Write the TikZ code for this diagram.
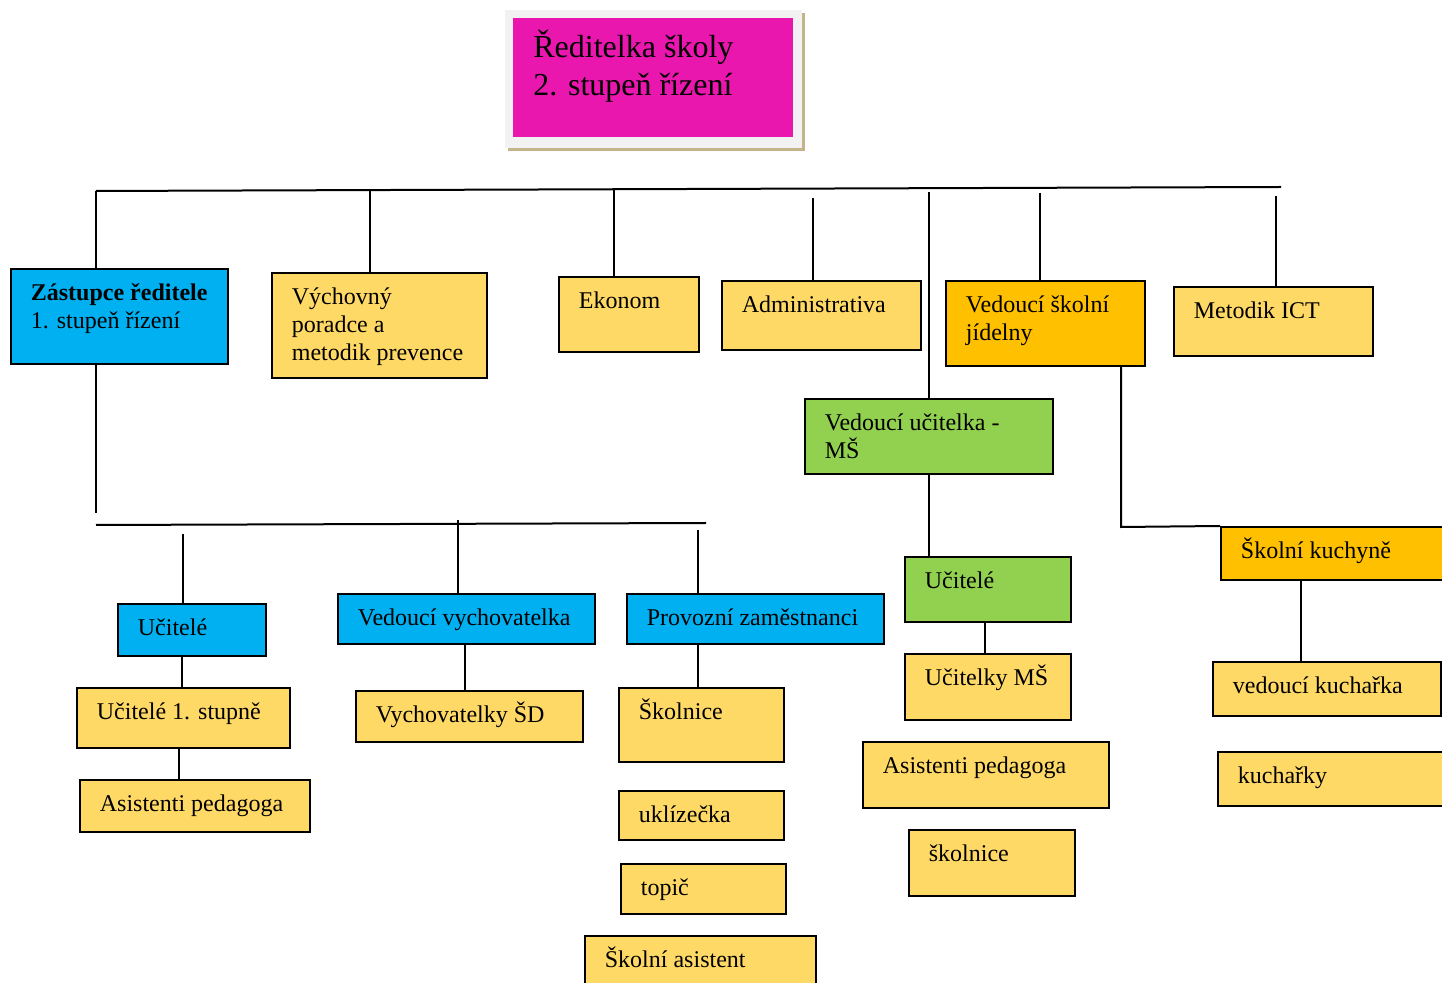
\documentclass[tikz,border=0pt]{standalone}
\usepackage{fontspec}
\setmainfont{Liberation Serif}
\definecolor{titlepink}{HTML}{EA17AE}
\definecolor{framegray}{HTML}{F2F2F2}
\definecolor{shadowtan}{HTML}{C4B48C}
\definecolor{boxblue}{HTML}{00B0F0}
\definecolor{boxyellow}{HTML}{FFD966}
\definecolor{boxorange}{HTML}{FFC000}
\definecolor{boxgreen}{HTML}{92D050}
\tikzset{box/.style={rectangle,
                     draw=black,
                     line width=1pt,
                     inner sep=0pt,
                     anchor=north west},
         staff/.style={box, fill=boxyellow},
         unit/.style={box, fill=boxblue},
         kitchen/.style={box, fill=boxorange},
         nursery/.style={box, fill=boxgreen},
         % #1 = number of extra lines below the first one
         txt/.style={anchor=base west,
                     inner sep=0pt,
                     align=left,
                     xshift=10.25pt,
                     yshift=-16.5pt-#1*14pt,
                     font=\fontsize{12}{14}\selectfont},
         txt/.default=0,
         link/.style={line width=1pt}}

\begin{document}
\begin{tikzpicture}[x=0.5pt, y=-0.5pt]
\useasboundingbox (0,0) rectangle (1442,983);
\clip (0,0) rectangle (1442,983);

% director
\fill[shadowtan] (508,13) rectangle (805,151);
\fill[framegray] (505,10) rectangle (802,148);
\node (dir) [rectangle, fill=titlepink, inner sep=0pt, anchor=north west,
             minimum width=140pt, minimum height=59.5pt,
             label={[anchor=base west, inner sep=0pt, align=left, xshift=10pt, yshift=-39pt,
                     font=\fontsize{16}{19}\selectfont]north west:{Ředitelka školy\\2. stupeň řízení}}] at (513,18) {};

% first row
\node (zast) [unit, minimum width=108.5pt, minimum height=47.5pt,
              label={[txt=1]north west:{\textbf{Zástupce ředitele}\\1. stupeň řízení}}] at (10,268) {};
\node (vych) [staff, minimum width=107.5pt, minimum height=52.5pt,
              label={[txt=2]north west:{Výchovný\\poradce a\\metodik prevence}}] at (271,272) {};
\node (ekon) [staff, minimum width=70pt, minimum height=37.5pt,
              label={[txt]north west:Ekonom}] at (558,276) {};
\node (admin) [staff, minimum width=99.5pt, minimum height=34.5pt,
               label={[txt]north west:Administrativa}] at (721,280) {};
\node (jid) [kitchen, minimum width=99.5pt, minimum height=42.5pt,
             label={[txt=1]north west:{Vedoucí školní\\jídelny}}] at (945,280) {};
\node (ict) [staff, minimum width=99.5pt, minimum height=34.5pt,
             label={[txt]north west:Metodik ICT}] at (1173,286) {};
\node (vedms) [nursery, minimum width=124pt, minimum height=37.5pt,
               label={[txt=1]north west:{Vedoucí učitelka -\\MŠ}}] at (804,398) {};

% primary school
\node (ucit) [unit, minimum width=74pt, minimum height=26pt,
              label={[txt]north west:Učitelé}] at (117,603) {};
\node (vedvych) [unit, minimum width=128.5pt, minimum height=25pt,
                 label={[txt]north west:Vedoucí vychovatelka}] at (337,593) {};
\node (provoz) [unit, minimum width=128.5pt, minimum height=25pt,
                label={[txt]north west:Provozní zaměstnanci}] at (626,593) {};
\node (uc1) [staff, minimum width=106.5pt, minimum height=30pt,
             label={[txt]north west:Učitelé 1. stupně}] at (76,687) {};
\node (as1) [staff, minimum width=115pt, minimum height=26pt,
             label={[txt]north west:Asistenti pedagoga}] at (79,779) {};
\node (vychsd) [staff, minimum width=113.5pt, minimum height=25.5pt,
                label={[txt]north west:Vychovatelky ŠD}] at (355,690) {};
\node (skoln) [staff, minimum width=82.5pt, minimum height=37pt,
               label={[txt]north west:Školnice}] at (618,687) {};
\node (ukl) [staff, minimum width=82.5pt, minimum height=24.5pt,
             label={[txt]north west:uklízečka}] at (618,790) {};
\node (topic) [staff, minimum width=82.5pt, minimum height=25pt,
               label={[txt]north west:topič}] at (620,863) {};
\node (skas) [staff, minimum width=115.5pt, minimum height=30pt,
              label={[txt]north west:Školní asistent}] at (584,935) {};

% nursery school
\node (ucitms) [nursery, minimum width=83pt, minimum height=32.5pt,
                label={[txt]north west:Učitelé}] at (904,556) {};
\node (ucitky) [staff, minimum width=83pt, minimum height=33pt,
                label={[txt]north west:Učitelky MŠ}] at (904,653) {};
\node (asms) [staff, minimum width=123pt, minimum height=33pt,
              label={[txt]north west:Asistenti pedagoga}] at (862,741) {};
\node (skolms) [staff, minimum width=83pt, minimum height=33pt,
                label={[txt]north west:školnice}] at (908,829) {};

% kitchen
\node (kuch) [kitchen, minimum width=120pt, minimum height=26.5pt,
              label={[txt]north west:Školní kuchyně}] at (1220,526) {};
\node (vkuch) [staff, minimum width=114pt, minimum height=27pt,
               label={[txt]north west:vedoucí kuchařka}] at (1212,661) {};
\node (kuchky) [staff, minimum width=120pt, minimum height=27pt,
                label={[txt]north west:kuchařky}] at (1217,751) {};

% top bus
\coordinate (busL) at (96,191);
\coordinate (busR) at (1281,187);
\coordinate (t2) at (370,191);
\coordinate (t3) at (614,189);
\coordinate (t4) at (813,198);
\coordinate (t5) at (929,192);
\coordinate (t6) at (1040,193);
\coordinate (t7) at (1276,196);
\draw[link] (busL) -- (busR);
\draw[link] (busL) -- (busL |- zast.north);
\draw[link] (t2) -- (t2 |- vych.north);
\draw[link] (t3) -- (t3 |- ekon.north);
\draw[link] (t4) -- (t4 |- admin.north);
\draw[link] (t5) -- (t5 |- vedms.north);
\draw[link] (t6) -- (t6 |- jid.north);
\draw[link] (t7) -- (t7 |- ict.north);

% lower bus
\coordinate (zd) at (96,513);
\coordinate (lbL) at (96,525);
\coordinate (lbR) at (706,523);
\coordinate (l1) at (183,534);
\coordinate (l2) at (458,520);
\coordinate (l3) at (698,530);
\draw[link] (zast.south -| zd) -- (zd);
\draw[link] (lbL) -- (lbR);
\draw[link] (l1) -- (l1 |- ucit.north);
\draw[link] (l2) -- (l2 |- vedvych.north);
\draw[link] (l3) -- (l3 |- provoz.north);

% chains
\draw[link] ([xshift=-0.5pt]ucit.south -| l1) -- ([xshift=-0.5pt]uc1.north -| l1);
\draw[link] ([xshift=-2pt]uc1.south -| l1) -- ([xshift=-2pt]as1.north -| l1);
\draw[link] ([xshift=-0.75pt]vedvych.south) -- ([xshift=-0.75pt]vedvych.south |- vychsd.north);
\draw[link] (provoz.south -| l3) -- (skoln.north -| l3);
\draw[link] (vedms.south -| t5) -- (ucitms.north -| t5);
\draw[link] ([xshift=-1.5pt]ucitms.south) -- ([xshift=-1.5pt]ucitky.north);
\coordinate (kc) at (1121,527);
\draw[link] (jid.south -| kc) -- (kc) -- (kuch.north west);
\draw[link] ([xshift=-20pt]kuch.south) -- ([xshift=-20pt]kuch.south |- vkuch.north);
\end{tikzpicture}
\end{document}
